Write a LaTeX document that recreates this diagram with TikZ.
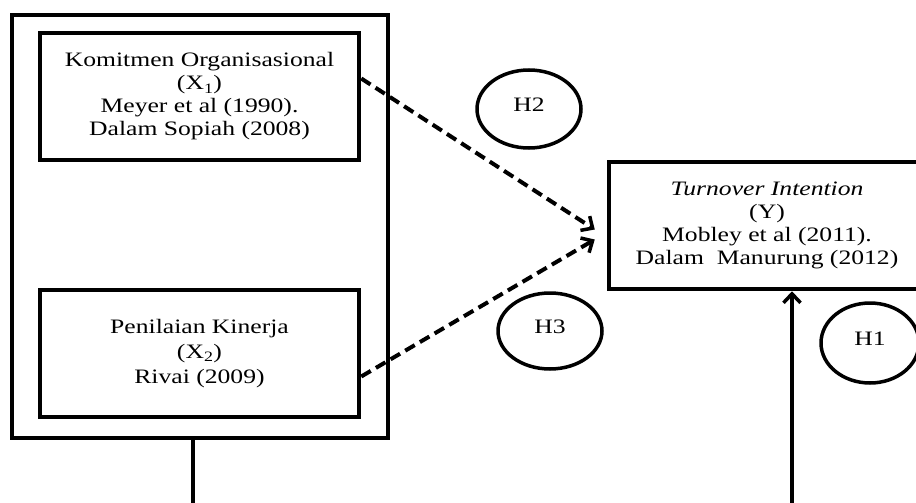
\documentclass[tikz,border=0pt]{standalone}
\usepackage{fontspec}
\setmainfont{Liberation Serif}[FakeStretch=1.25]
\usetikzlibrary{arrows.meta,shapes.geometric}

\begin{document}
\begin{tikzpicture}[x=1pt, y=-1pt,
	box/.style={draw, line width=4.5pt, align=center, inner sep=0pt},
	hypo/.style={draw, ellipse, line width=3.5pt, inner sep=0pt},
	dashline/.style={line width=4pt, dash pattern=on 11pt off 6pt, -{Straight Barb[length=9pt,width=17pt,line width=3.5pt]}},
	solidline/.style={line width=4.5pt}]
	\tikzstyle{every node}=[font=\fontsize{20.5}{23}\selectfont]
	\clip (0,0) rectangle (916,503);
	% variabel bebas
	\node[box, minimum width=376pt, minimum height=423pt] (vars) at (200,226.5) {};
	\node[box, minimum width=319pt, minimum height=127pt] (x1) at (199.5,96.5) {Komitmen Organisasional\\(X\textsubscript{1})\\Meyer et al (1990).\\Dalam Sopiah (2008)};
	\node[box, minimum width=319pt, minimum height=127pt] (x2) at (199.5,353.5) {Penilaian Kinerja\\[2pt](X\textsubscript{2})\\[2pt]Rivai (2009)};
	% variabel terikat
	\node[box, minimum width=316pt, minimum height=127pt] (y) at (767,225.5) {\textit{Turnover Intention}\\(Y)\\Mobley et al (2011).\\Dalam\ \ Manurung (2012)};
	% hipotesis
	\node[hypo, minimum width=104pt, minimum height=78pt] (h2) at (529,109) {\raisebox{9pt}{H2}};
	\node[hypo, minimum width=104pt, minimum height=76pt] (h3) at (550,331) {\raisebox{9pt}{H3}};
	\node[hypo, minimum width=98pt, minimum height=80pt] (h1) at (870,343) {\raisebox{9pt}{H1}};
	% panah
	\draw[dashline] ([yshift=18pt]x1.east) -- ([xshift=-12pt,yshift=-4pt]y.west);
	\draw[dashline] ([yshift=-23pt]x2.east) -- ([xshift=-12pt,yshift=-14pt]y.west);
	\coordinate (bl) at (193,510);
	\coordinate (br) at (792,510);
	\draw[solidline] (vars.south -| bl) -- (bl);
	\draw[solidline, -{Straight Barb[length=9pt,width=17pt,line width=3.5pt]}] (br) -- (br |- y.south);
\end{tikzpicture}
\end{document}
